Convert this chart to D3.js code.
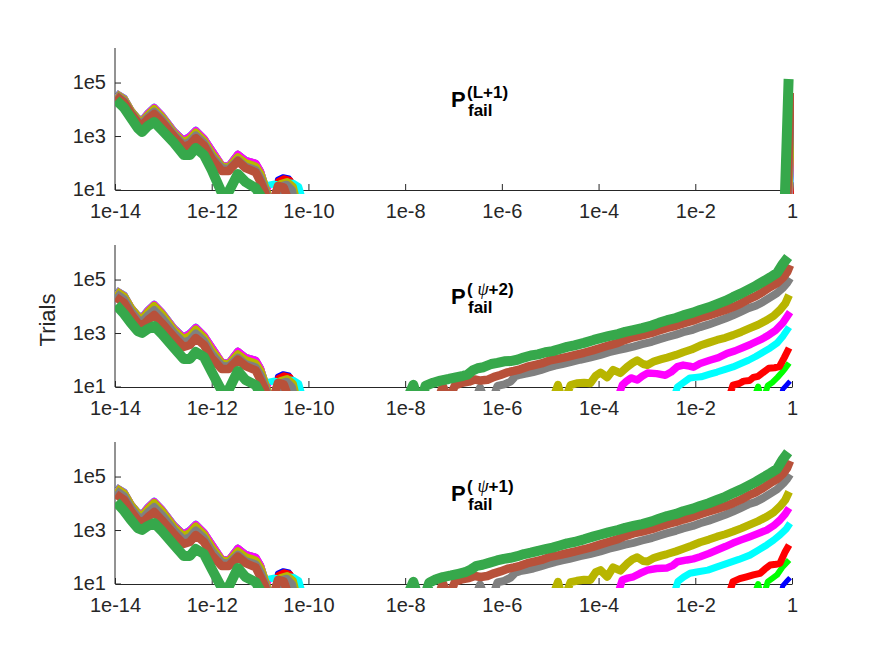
<!DOCTYPE html>
<html>
<head>
<meta charset="utf-8">
<script src="https://cdn.jsdelivr.net/npm/d3@7"></script>
<style>
body { margin: 0; background: #fff; }
text { font-family: "Liberation Sans", Arial, Helvetica, sans-serif; }
</style>
</head>
<body>
<div class="chart"></div>
<script>
// series order: drawn first -> last (green ends on top)
const seriesNames = ["blue", "lime", "red", "cyan", "magenta", "olive", "gray", "brown", "green"];
const seriesColors = ["#0000ff", "#00ff00", "#ff0000", "#00ffff", "#ff00ff", "#b8b500", "#808080", "#b8513a", "#36a84b"];
const lineWidths = [5, 6, 7, 7, 7.5, 8, 8, 8.5, 10];

const xTicks = [1e-14, 1e-12, 1e-10, 1e-8, 1e-6, 1e-4, 1e-2, 1];
const xTickLabels = ["1e-14", "1e-12", "1e-10", "1e-8", "1e-6", "1e-4", "1e-2", "1"];
const yTicks = [10, 1e3, 1e5];
const yTickLabels = ["1e1", "1e3", "1e5"];
const titleSups = ["(L+1)", "+2)", "+1)"];

// all values below are log10(P_fail) and log10(trials)

// left cluster (numerical floor), common log10 P grid
const leftLogP = [-13.98, -13.81, -13.67, -13.53, -13.44, -13.32, -13.19, -13.03, -12.78, -12.58, -12.45,
                  -12.33, -12.16, -12.00, -11.79, -11.65, -11.46, -11.30, -11.09, -10.99, -10.90, -10.82];
const leftBlue    = [4.63, 4.45, 3.99, 3.70, 3.62, 3.89, 4.11, 3.81, 3.21, 2.88, 3.03, 3.25, 2.95, 2.51, 1.93, 1.90, 2.36, 2.13, 2.02, 1.72, 1.20, 0.70];
const leftLime    = [4.61, 4.43, 3.97, 3.68, 3.60, 3.87, 4.09, 3.79, 3.19, 2.85, 3.01, 3.23, 2.92, 2.49, 1.92, 1.88, 2.33, 2.10, 1.99, 1.69, 1.18, 0.70];
const leftRed     = [4.62, 4.43, 3.98, 3.68, 3.61, 3.87, 4.09, 3.79, 3.20, 2.86, 3.01, 3.23, 2.93, 2.49, 1.92, 1.89, 2.34, 2.11, 2.00, 1.70, 1.19, 0.70];
const leftCyan    = [4.62, 4.44, 3.98, 3.69, 3.61, 3.88, 4.10, 3.80, 3.20, 2.86, 3.02, 3.24, 2.93, 2.50, 1.92, 1.89, 2.34, 2.11, 2.00, 1.70, 1.20, 1.18];
const leftMagenta = [4.60, 4.41, 3.97, 3.66, 3.59, 3.86, 4.08, 3.78, 3.18, 2.85, 3.00, 3.22, 2.92, 2.48, 1.92, 1.88, 2.33, 2.10, 2.00, 1.69, 1.10, 0.95];
const leftOlive   = [4.59, 4.38, 3.95, 3.64, 3.54, 3.80, 4.03, 3.73, 3.13, 2.79, 2.91, 3.15, 2.85, 2.38, 1.88, 1.84, 2.23, 2.01, 1.88, 1.60, 1.15, 0.70];
const p1LeftGray  = [4.55, 4.33, 3.90, 3.58, 3.49, 3.73, 3.93, 3.64, 3.07, 2.70, 2.81, 3.04, 2.76, 2.27, 1.82, 1.79, 2.12, 1.88, 1.75, 1.45, 1.04, 0.63];
const p1LeftBrown = [4.51, 4.27, 3.86, 3.52, 3.41, 3.65, 3.84, 3.54, 3.00, 2.61, 2.70, 2.94, 2.66, 2.16, 1.71, 1.71, 2.08, 1.82, 1.66, 1.30, 0.93, 0.44];
const p1LeftGreen = [4.36, 4.07, 3.69, 3.32, 3.17, 3.39, 3.54, 3.24, 2.76, 2.31, 2.31, 2.57, 2.31, 1.75, 0.89, 0.93, 1.60, 1.30, 1.07, 0.78, 0.44, 0.25];
const p23LeftGray  = [4.50, 4.28, 3.85, 3.53, 3.44, 3.68, 3.88, 3.59, 3.02, 2.66, 2.76, 3.00, 2.72, 2.24, 1.80, 1.77, 2.10, 1.86, 1.74, 1.44, 1.04, 0.63];
const p23LeftBrown = [4.36, 4.14, 3.73, 3.39, 3.28, 3.50, 3.69, 3.39, 2.87, 2.50, 2.57, 2.83, 2.57, 2.08, 1.67, 1.67, 2.02, 1.78, 1.62, 1.26, 0.93, 0.44];
const p23LeftGreen = [4.07, 3.73, 3.39, 3.09, 3.02, 3.17, 3.28, 2.98, 2.46, 2.05, 2.05, 2.31, 2.12, 1.56, 0.85, 0.89, 1.60, 1.26, 1.07, 0.74, 0.44, 0.25];

// small bump near 1e-10
const cyanTail   = [[-10.72, 1.22], [-10.60, 1.20], [-10.45, 1.28], [-10.30, 1.24], [-10.20, 1.12], [-10.10, 0.5]];
const blueBump   = [[-10.74, 0.5], [-10.64, 1.40], [-10.52, 1.50], [-10.40, 1.45], [-10.30, 1.20], [-10.22, 0.5]];
const limeBump   = [[-10.72, 0.5], [-10.60, 1.20], [-10.48, 1.30], [-10.36, 0.8]];
const redBump    = [[-10.72, 0.5], [-10.62, 1.32], [-10.50, 1.42], [-10.38, 1.36], [-10.28, 0.7]];
const oliveBump  = [[-10.68, 0.5], [-10.58, 1.22], [-10.44, 1.30], [-10.32, 1.12], [-10.24, 0.5]];
const grayBump   = [[-10.70, 0.5], [-10.58, 1.14], [-10.45, 1.20], [-10.34, 1.00], [-10.28, 0.5]];
const brownBump  = [[-10.74, 0.5], [-10.63, 1.15], [-10.51, 1.10], [-10.41, 0.6]];

// panel 1, P_fail^(L+1): everything fails near 1
const p1Blue = [];
const p1Lime = [[-0.04, 0.6], [-0.01, 1.10]];
const p1Red = [[-0.05, 0.6], [-0.01, 1.30]];
const p1Cyan = [[-0.06, 0.6], [-0.015, 2.01]];
const p1Magenta = [[-0.07, 0.6], [-0.02, 2.61]];
const p1Olive = [[-0.08, 0.6], [-0.02, 3.24]];
const p1Gray = [[-0.09, 0.6], [-0.025, 3.99]];
const p1Brown = [[-0.10, 0.6], [-0.03, 4.63]];
const p1Green = [[-0.15, 0.6], [-0.07, 5.15]];

// panel 2, P_fail^(psi+2)
const p2Blue = [[-0.28, 0.3], [-0.19, 0.92], [-0.10, 1.10], [-0.04, 1.22]];
const p2Lime = [[-0.84, 0.3], [-0.70, 1.02], [-0.62, 0.4], null, [-0.60, 0.5], [-0.50, 1.06], [-0.40, 1.18], [-0.30, 1.36], [-0.22, 1.52], [-0.14, 1.70], [-0.06, 1.90]];
const p2Red = [[-1.36, 0.3], [-1.22, 1.07], [-1.08, 1.14], [-1.00, 1.22], [-0.88, 1.24], [-0.80, 1.36], [-0.70, 1.40], [-0.60, 1.54], [-0.48, 1.70], [-0.36, 1.72], [-0.26, 1.76], [-0.16, 2.10], [-0.06, 2.46]];
const p2Cyan = [[-2.50, 0.3], [-2.37, 1.00], [-2.25, 1.16], [-2.11, 1.34], [-2.00, 1.36], [-1.88, 1.38], [-1.70, 1.48], [-1.55, 1.56], [-1.38, 1.66], [-1.22, 1.75], [-1.08, 1.86], [-0.90, 2.00], [-0.75, 2.14], [-0.60, 2.30], [-0.45, 2.46], [-0.31, 2.64], [-0.18, 2.92], [-0.06, 3.24]];
const p2Magenta = [[-3.66, 0.3], [-3.51, 1.07], [-3.42, 1.22], [-3.33, 1.34], [-3.20, 1.26], [-3.10, 1.40], [-2.99, 1.52], [-2.80, 1.50], [-2.62, 1.44], [-2.50, 1.56], [-2.37, 1.76], [-2.25, 1.82], [-2.12, 1.78], [-2.04, 1.74], [-1.90, 1.88], [-1.70, 2.00], [-1.52, 2.10], [-1.34, 2.26], [-1.18, 2.35], [-1.01, 2.48], [-0.85, 2.60], [-0.66, 2.76], [-0.50, 2.92], [-0.34, 3.12], [-0.19, 3.40], [-0.04, 3.80]];
const p2Olive = [[-5.00, 0.3], [-4.84, 1.08], [-4.72, 0.3], null, [-4.70, 0.5], [-4.58, 1.07], [-4.45, 1.14], [-4.30, 1.16], [-4.17, 1.14], [-4.06, 1.42], [-3.96, 1.54], [-3.82, 1.36], [-3.70, 1.64], [-3.55, 1.52], [-3.41, 1.75], [-3.30, 1.90], [-3.20, 2.00], [-3.08, 1.86], [-2.99, 1.82], [-2.85, 1.96], [-2.70, 2.04], [-2.58, 2.10], [-2.40, 2.20], [-2.25, 2.30], [-2.08, 2.40], [-1.90, 2.55], [-1.72, 2.66], [-1.55, 2.76], [-1.38, 2.84], [-1.22, 2.94], [-1.05, 3.06], [-0.87, 3.20], [-0.70, 3.33], [-0.52, 3.50], [-0.38, 3.66], [-0.25, 3.88], [-0.14, 4.12], [-0.06, 4.44]];
const p2Gray = [[-6.60, 0.3], [-6.45, 0.98], [-6.33, 0.4], null, [-6.20, 0.5], [-6.09, 1.04], [-5.95, 1.10], [-5.82, 1.20], [-5.72, 1.40], [-5.62, 1.46], [-5.50, 1.50], [-5.35, 1.56], [-5.20, 1.63], [-5.05, 1.72], [-4.90, 1.80], [-4.75, 1.86], [-4.60, 1.92], [-4.38, 2.02], [-4.18, 2.10], [-3.96, 2.20], [-3.78, 2.30], [-3.60, 2.38], [-3.45, 2.44], [-3.28, 2.51], [-3.10, 2.60], [-2.90, 2.69], [-2.75, 2.78], [-2.58, 2.87], [-2.40, 2.96], [-2.25, 3.05], [-2.05, 3.14], [-1.90, 3.24], [-1.72, 3.34], [-1.55, 3.45], [-1.38, 3.56], [-1.22, 3.68], [-1.05, 3.82], [-0.90, 3.95], [-0.75, 4.04], [-0.60, 4.18], [-0.45, 4.35], [-0.31, 4.51], [-0.18, 4.72], [-0.10, 4.89], [-0.04, 5.07]];
const p2Brown = [[-7.36, 0.3], [-7.22, 1.03], [-7.10, 0.5], [-6.97, 1.06], [-6.82, 1.16], [-6.68, 1.20], [-6.56, 1.28], [-6.44, 1.24], [-6.30, 1.27], [-6.16, 1.38], [-6.03, 1.45], [-5.88, 1.55], [-5.75, 1.60], [-5.62, 1.66], [-5.47, 1.76], [-5.33, 1.82], [-5.18, 1.88], [-5.00, 2.00], [-4.82, 2.06], [-4.65, 2.13], [-4.48, 2.20], [-4.30, 2.28], [-4.12, 2.37], [-3.96, 2.46], [-3.78, 2.56], [-3.60, 2.65], [-3.45, 2.76], [-3.28, 2.86], [-3.10, 2.93], [-2.90, 3.02], [-2.75, 3.11], [-2.58, 3.21], [-2.40, 3.29], [-2.25, 3.38], [-2.05, 3.48], [-1.90, 3.58], [-1.72, 3.68], [-1.55, 3.78], [-1.38, 3.88], [-1.22, 3.99], [-1.05, 4.13], [-0.90, 4.28], [-0.75, 4.40], [-0.60, 4.56], [-0.45, 4.74], [-0.31, 4.89], [-0.18, 5.10], [-0.10, 5.30], [-0.04, 5.56]];
const p2Green = [[-8.02, 0.3], [-7.83, 1.08], [-7.70, 0.3], null, [-7.66, 0.5], [-7.58, 1.04], [-7.42, 1.16], [-7.27, 1.24], [-7.10, 1.30], [-6.95, 1.36], [-6.80, 1.42], [-6.71, 1.46], [-6.60, 1.62], [-6.50, 1.70], [-6.38, 1.74], [-6.22, 1.86], [-6.09, 1.90], [-5.95, 1.96], [-5.82, 1.97], [-5.68, 2.02], [-5.55, 2.10], [-5.40, 2.18], [-5.25, 2.22], [-5.10, 2.30], [-4.95, 2.34], [-4.80, 2.42], [-4.65, 2.50], [-4.50, 2.56], [-4.30, 2.65], [-4.10, 2.76], [-3.96, 2.83], [-3.80, 2.90], [-3.60, 2.98], [-3.45, 3.06], [-3.28, 3.13], [-3.10, 3.20], [-2.90, 3.30], [-2.75, 3.40], [-2.58, 3.50], [-2.40, 3.58], [-2.25, 3.68], [-2.05, 3.78], [-1.90, 3.88], [-1.72, 3.98], [-1.55, 4.10], [-1.38, 4.22], [-1.22, 4.36], [-1.05, 4.50], [-0.90, 4.64], [-0.75, 4.78], [-0.60, 4.94], [-0.45, 5.10], [-0.31, 5.26], [-0.19, 5.60], [-0.08, 5.86]];

// panel 3, P_fail^(psi+1)
const p3Blue = [[-0.28, 0.3], [-0.19, 0.94], [-0.10, 1.12], [-0.04, 1.24]];
const p3Lime = [[-0.84, 0.3], [-0.70, 1.00], [-0.62, 0.4], null, [-0.60, 0.5], [-0.50, 1.09], [-0.40, 1.22], [-0.31, 1.34], [-0.19, 1.65], [-0.06, 1.90]];
const p3Red = [[-1.36, 0.3], [-1.22, 1.09], [-1.08, 1.20], [-0.94, 1.27], [-0.80, 1.34], [-0.66, 1.40], [-0.56, 1.56], [-0.45, 1.71], [-0.33, 1.74], [-0.25, 1.77], [-0.14, 2.21], [-0.06, 2.46]];
const p3Cyan = [[-2.50, 0.3], [-2.36, 1.09], [-2.24, 1.26], [-2.11, 1.40], [-1.94, 1.46], [-1.74, 1.52], [-1.55, 1.64], [-1.34, 1.77], [-1.10, 1.92], [-0.87, 2.08], [-0.70, 2.26], [-0.52, 2.46], [-0.38, 2.64], [-0.25, 2.83], [-0.12, 3.06], [-0.04, 3.27]];
const p3Magenta = [[-3.66, 0.3], [-3.51, 1.15], [-3.40, 1.22], [-3.28, 1.27], [-3.14, 1.40], [-2.99, 1.52], [-2.80, 1.58], [-2.58, 1.60], [-2.46, 1.70], [-2.37, 1.83], [-2.17, 1.90], [-2.04, 1.94], [-1.90, 2.02], [-1.72, 2.14], [-1.55, 2.27], [-1.38, 2.40], [-1.22, 2.53], [-1.05, 2.65], [-0.87, 2.77], [-0.70, 2.89], [-0.52, 3.02], [-0.38, 3.18], [-0.25, 3.39], [-0.14, 3.62], [-0.06, 3.84]];
const p3Olive = [[-5.00, 0.3], [-4.84, 1.08], [-4.72, 0.3], null, [-4.70, 0.5], [-4.58, 1.07], [-4.45, 1.12], [-4.30, 1.16], [-4.17, 1.15], [-4.06, 1.44], [-3.96, 1.52], [-3.82, 1.27], [-3.70, 1.62], [-3.55, 1.50], [-3.41, 1.76], [-3.30, 1.92], [-3.20, 2.00], [-3.08, 1.86], [-2.99, 1.84], [-2.85, 1.98], [-2.70, 2.06], [-2.58, 2.12], [-2.40, 2.22], [-2.25, 2.32], [-2.08, 2.43], [-1.90, 2.56], [-1.72, 2.66], [-1.55, 2.77], [-1.38, 2.86], [-1.22, 2.96], [-1.05, 3.08], [-0.87, 3.22], [-0.70, 3.35], [-0.52, 3.52], [-0.38, 3.68], [-0.25, 3.90], [-0.14, 4.14], [-0.06, 4.45]];
const p3Gray = [[-6.60, 0.3], [-6.45, 0.98], [-6.33, 0.4], null, [-6.20, 0.5], [-6.09, 1.06], [-5.95, 1.12], [-5.82, 1.24], [-5.72, 1.42], [-5.62, 1.48], [-5.50, 1.52], [-5.35, 1.58], [-5.20, 1.66], [-5.05, 1.74], [-4.90, 1.82], [-4.75, 1.88], [-4.60, 1.94], [-4.38, 2.04], [-4.18, 2.12], [-3.96, 2.22], [-3.78, 2.32], [-3.60, 2.40], [-3.45, 2.47], [-3.28, 2.54], [-3.10, 2.63], [-2.90, 2.72], [-2.75, 2.81], [-2.58, 2.90], [-2.40, 2.99], [-2.25, 3.08], [-2.05, 3.17], [-1.90, 3.27], [-1.72, 3.37], [-1.55, 3.48], [-1.38, 3.59], [-1.22, 3.71], [-1.05, 3.85], [-0.90, 3.98], [-0.75, 4.07], [-0.60, 4.21], [-0.45, 4.38], [-0.31, 4.54], [-0.18, 4.76], [-0.10, 4.93], [-0.04, 5.10]];
const p3Brown = [[-7.36, 0.3], [-7.22, 1.03], [-7.10, 0.5], [-6.97, 1.08], [-6.82, 1.18], [-6.68, 1.22], [-6.56, 1.30], [-6.44, 1.26], [-6.30, 1.30], [-6.16, 1.40], [-6.03, 1.47], [-5.88, 1.57], [-5.75, 1.62], [-5.62, 1.68], [-5.47, 1.78], [-5.33, 1.84], [-5.18, 1.90], [-5.00, 2.02], [-4.82, 2.08], [-4.65, 2.15], [-4.48, 2.22], [-4.30, 2.30], [-4.12, 2.39], [-3.96, 2.48], [-3.78, 2.58], [-3.60, 2.68], [-3.45, 2.79], [-3.28, 2.89], [-3.10, 2.96], [-2.90, 3.05], [-2.75, 3.14], [-2.58, 3.24], [-2.40, 3.32], [-2.25, 3.41], [-2.05, 3.51], [-1.90, 3.61], [-1.72, 3.71], [-1.55, 3.81], [-1.38, 3.91], [-1.22, 4.02], [-1.05, 4.16], [-0.90, 4.31], [-0.75, 4.43], [-0.60, 4.59], [-0.45, 4.77], [-0.31, 4.92], [-0.18, 5.14], [-0.10, 5.34], [-0.04, 5.60]];
const p3Green = [[-8.02, 0.3], [-7.83, 1.08], [-7.70, 0.3], null, [-7.62, 0.4], [-7.50, 1.05], [-7.36, 1.18], [-7.22, 1.26], [-7.05, 1.32], [-6.90, 1.38], [-6.76, 1.44], [-6.64, 1.54], [-6.52, 1.68], [-6.40, 1.72], [-6.25, 1.80], [-6.10, 1.88], [-5.96, 1.94], [-5.82, 1.98], [-5.68, 2.04], [-5.54, 2.12], [-5.40, 2.17], [-5.25, 2.24], [-5.10, 2.30], [-4.95, 2.36], [-4.80, 2.44], [-4.65, 2.52], [-4.50, 2.57], [-4.30, 2.67], [-4.10, 2.78], [-3.96, 2.85], [-3.80, 2.93], [-3.60, 3.02], [-3.45, 3.10], [-3.28, 3.17], [-3.10, 3.24], [-2.90, 3.34], [-2.75, 3.44], [-2.58, 3.54], [-2.40, 3.62], [-2.25, 3.72], [-2.05, 3.82], [-1.90, 3.92], [-1.72, 4.02], [-1.55, 4.14], [-1.38, 4.26], [-1.22, 4.40], [-1.05, 4.54], [-0.90, 4.68], [-0.75, 4.82], [-0.60, 4.98], [-0.45, 5.14], [-0.31, 5.30], [-0.19, 5.66], [-0.08, 5.93]];

// helpers to put segments together
function pairs(xs, ys) { return xs.map((v, i) => [v, ys[i]]); }
function joinSegs(...segs) {
    const out = [];
    segs.filter(s => s && s.length).forEach(s => {
        if (out.length) out.push(null);
        out.push(...s);
    });
    return out;
}

function panelSeries(leftGray, leftBrown, leftGreen, right) {
    return [
        joinSegs(pairs(leftLogP, leftBlue), blueBump, right[0]),
        joinSegs(pairs(leftLogP, leftLime), limeBump, right[1]),
        joinSegs(pairs(leftLogP, leftRed), redBump, right[2]),
        joinSegs(pairs(leftLogP, leftCyan).concat(cyanTail), right[3]),
        joinSegs(pairs(leftLogP, leftMagenta), right[4]),
        joinSegs(pairs(leftLogP, leftOlive), oliveBump, right[5]),
        joinSegs(pairs(leftLogP, leftGray), grayBump, right[6]),
        joinSegs(pairs(leftLogP, leftBrown), brownBump, right[7]),
        joinSegs(pairs(leftLogP, leftGreen), right[8])
    ];
}

const panels = [
    panelSeries(p1LeftGray, p1LeftBrown, p1LeftGreen, [p1Blue, p1Lime, p1Red, p1Cyan, p1Magenta, p1Olive, p1Gray, p1Brown, p1Green]),
    panelSeries(p23LeftGray, p23LeftBrown, p23LeftGreen, [p2Blue, p2Lime, p2Red, p2Cyan, p2Magenta, p2Olive, p2Gray, p2Brown, p2Green]),
    panelSeries(p23LeftGray, p23LeftBrown, p23LeftGreen, [p3Blue, p3Lime, p3Red, p3Cyan, p3Magenta, p3Olive, p3Gray, p3Brown, p3Green])
];

// layout
const width = 875, height = 657;
const plotLeft = 115, plotRight = 792;
const panelTops = [48, 245, 442];
const panelH = 142;
const axisColor = "#262626";

const svg = d3.select(".chart")
    .append("svg")
    .attr("width", width)
    .attr("height", height);

const x = d3.scaleLog().domain([1e-14, 1]).range([plotLeft, plotRight]);

panels.forEach((series, k) => {
    const top = panelTops[k], bottom = top + panelH;
    const y = d3.scaleLog().domain([10, Math.pow(10, 6.31)]).range([bottom, top]);
    const g = svg.append("g");

    // axes
    const xAxis = d3.axisBottom(x)
        .tickValues(xTicks)
        .tickFormat((d, i) => xTickLabels[i])
        .tickSizeInner(-6).tickSizeOuter(0).tickPadding(14);
    g.append("g")
        .attr("transform", `translate(0, ${bottom})`)
        .style("color", axisColor)
        .call(xAxis)
        .attr("font-family", null).attr("font-size", 20);

    const yAxis = d3.axisLeft(y)
        .tickValues(yTicks)
        .tickFormat((d, i) => yTickLabels[i])
        .tickSizeInner(-6).tickSizeOuter(0).tickPadding(9)
        .offset(0);
    g.append("g")
        .attr("transform", `translate(${plotLeft}, 0)`)
        .style("color", axisColor)
        .call(yAxis)
        .attr("font-family", null).attr("font-size", 20);

    // clip
    svg.append("clipPath").attr("id", "clip" + k)
        .append("rect")
        .attr("x", plotLeft).attr("y", top)
        .attr("width", plotRight + 2 - plotLeft)
        .attr("height", panelH + 4);

    const line = d3.line()
        .defined(d => d !== null)
        .x(d => x(Math.pow(10, d[0])))
        .y(d => y(Math.pow(10, d[1])));

    g.append("g")
        .attr("clip-path", `url(#clip${k})`)
        .selectAll("path")
        .data(series)
        .join("path")
            .attr("d", line)
            .attr("fill", "none")
            .attr("stroke", (d, i) => seriesColors[i])
            .attr("stroke-width", (d, i) => lineWidths[i])
            .attr("stroke-linejoin", "round")
            .attr("stroke-linecap", "butt");

    // title  P_fail^(...)
    const tx = 451;
    g.append("text")
        .attr("x", tx).attr("y", bottom - 83)
        .attr("font-size", 22).attr("font-weight", "bold").attr("fill", "#000")
        .text("P");
    const sup = g.append("text")
        .attr("x", tx + 16).attr("y", bottom - 92)
        .attr("font-size", 17).attr("font-weight", "bold").attr("fill", "#000");
    if (k === 0) {
        sup.text(titleSups[k]);
    } else {
        sup.append("tspan").text("(\u00a0");
        sup.append("tspan")
            .attr("font-family", "'Liberation Serif', 'DejaVu Serif', serif")
            .attr("font-style", "italic").attr("font-weight", "normal")
            .attr("font-size", 18)
            .text("\u03c8");
        sup.append("tspan").text(titleSups[k]);
    }
    g.append("text")
        .attr("x", tx + 17).attr("y", bottom - 74)
        .attr("font-size", 17).attr("font-weight", "bold").attr("fill", "#000")
        .text("fail");
});

// y label
svg.append("text")
    .attr("transform", "translate(55, 320) rotate(-90)")
    .attr("text-anchor", "middle")
    .attr("font-size", 22)
    .attr("fill", axisColor)
    .text("Trials");
</script>
</body>
</html>
